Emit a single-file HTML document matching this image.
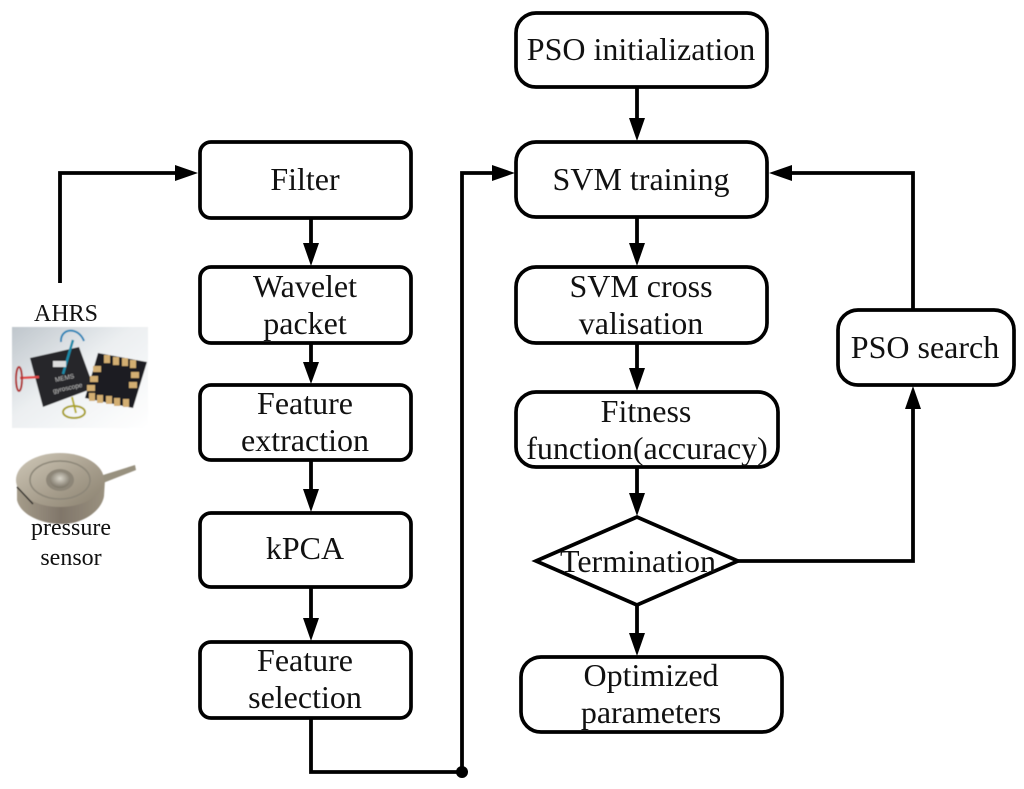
<!DOCTYPE html>
<html><head><meta charset="utf-8"><style>
html,body{margin:0;padding:0;background:#fff}
svg{display:block}
text{font-family:"Liberation Serif",serif;fill:#111;text-anchor:middle;font-size:32px}
.b{fill:#fff;stroke:#000;stroke-width:3.7}
.l{fill:none;stroke:#000;stroke-width:3.8}
</style></head><body>
<svg width="1024" height="789" viewBox="0 0 1024 789" xmlns="http://www.w3.org/2000/svg">
<defs>
<linearGradient id="bg" x1="0" y1="0" x2="1" y2="1"><stop offset="0" stop-color="#bfc6cc"/><stop offset=".45" stop-color="#eceff1"/><stop offset="1" stop-color="#fff"/></linearGradient>
<linearGradient id="met" x1="0" y1="0" x2="1" y2="1"><stop offset="0" stop-color="#cfc8b8"/><stop offset=".55" stop-color="#a89f8e"/><stop offset="1" stop-color="#8a816f"/></linearGradient>
<linearGradient id="side" x1="0" y1="0" x2="1" y2="0"><stop offset="0" stop-color="#a59c8a"/><stop offset=".5" stop-color="#80766a"/><stop offset="1" stop-color="#9a917f"/></linearGradient>
<radialGradient id="dome" cx=".5" cy=".4" r=".6"><stop offset="0" stop-color="#d9d5ca"/><stop offset="1" stop-color="#7a7365"/></radialGradient>
<filter id="bl" x="-5%" y="-5%" width="110%" height="110%"><feGaussianBlur stdDeviation="0.6"/></filter>
</defs>
<rect width="1024" height="789" fill="#fff"/>
<!-- AHRS image -->
<g filter="url(#bl)">
<rect x="12" y="327" width="136" height="101" fill="url(#bg)"/>
<polygon points="30,358 79,347 94,388 43,407" fill="#26262a"/>
<polygon points="98,353 147,362 133,408 85,398" fill="#1e1e20"/>
<g fill="#d2ae72">
<rect x="104" y="355" width="6" height="8"/><rect x="113" y="357" width="6" height="8"/><rect x="122" y="358" width="6" height="8"/><rect x="130" y="360" width="6" height="8"/>
<rect x="89" y="393" width="6" height="8"/><rect x="97" y="395" width="6" height="8"/><rect x="106" y="396" width="6" height="8"/><rect x="114" y="398" width="6" height="8"/><rect x="123" y="399" width="6" height="8"/>
<rect x="93" y="366" width="8" height="6"/><rect x="90" y="376" width="8" height="6"/><rect x="87" y="385" width="8" height="6"/>
<rect x="131" y="372" width="8" height="6"/><rect x="129" y="382" width="8" height="6"/>
</g>
<path d="M20,378 L39,377" stroke="#e04848" stroke-width="2.5" fill="none"/>
<ellipse cx="19" cy="379" rx="3" ry="12" fill="none" stroke="#b03030" stroke-width="2"/>
<path d="M63,374 L73,340" stroke="#1a8aa8" stroke-width="2.5"/>
<path d="M84,341 C78,326 60,328 61,342" fill="none" stroke="#2a86b8" stroke-width="2"/>
<path d="M72,397 L76,413" stroke="#b8b030" stroke-width="2"/>
<ellipse cx="74" cy="412" rx="11" ry="6" fill="none" stroke="#a8a020" stroke-width="2"/>
<rect x="53" y="361" width="13" height="6" fill="#ddd"/>
<text x="65" y="380" style="font-family:'Liberation Sans',sans-serif;font-size:6.5px;fill:#bbb" transform="rotate(-12 65 380)">MEMS</text>
<text x="68" y="390" style="font-family:'Liberation Sans',sans-serif;font-size:6.5px;fill:#bbb" transform="rotate(-12 68 390)">gyroscope</text>
</g>
<!-- pressure sensor -->
<g filter="url(#bl)">
<path d="M100,476 L135,465 L136,470 L103,483Z" fill="#98917f"/>
<path d="M17,484 L17,500 C20,514 40,524 62,524 C84,524 102,510 104,496 L105,480 Z" fill="url(#side)"/>
<ellipse cx="60" cy="480" rx="44" ry="27" fill="url(#met)"/>
<ellipse cx="60" cy="480" rx="30" ry="19" fill="none" stroke="#8c8678" stroke-width="1.5"/>
<ellipse cx="60" cy="480" rx="14" ry="11" fill="#8d8678"/>
<ellipse cx="60" cy="480" rx="10" ry="8" fill="url(#dome)"/>
<path d="M17,487 L33,504" stroke="#2c2a26" stroke-width="1.5"/>
</g>
<!-- connectors -->
<path class="l" d="M60,283 V173 H178"/>
<polygon points="198,173 175,165 175,181"/>
<path class="l" d="M311,218 V245"/><polygon points="311,266 303,243 319,243"/>
<path class="l" d="M311,343 V365"/><polygon points="311,384 303,362 319,362"/>
<path class="l" d="M311,460 V490"/><polygon points="311,512 303,489 319,489"/>
<path class="l" d="M311,587 V620"/><polygon points="311,641 303,618 319,618"/>
<path class="l" d="M311,718 V772 H462 V173 H495"/>
<polygon points="515,173 492,165 492,181"/>
<circle cx="462" cy="772" r="6"/>
<path class="l" d="M637,87 V120"/><polygon points="637,141 629,118 645,118"/>
<path class="l" d="M637,217 V245"/><polygon points="637,266 629,243 645,243"/>
<path class="l" d="M637,343 V370"/><polygon points="637,391 629,368 645,368"/>
<path class="l" d="M637,467 V495"/><polygon points="637,516 629,493 645,493"/>
<path class="l" d="M637,605 V635"/><polygon points="637,656 629,633 645,633"/>
<path class="l" d="M738,561 H913 V408"/><polygon points="913,386 905,409 921,409"/>
<path class="l" d="M913,309 V173 H790"/><polygon points="769,173 792,165 792,181"/>
<!-- boxes -->
<rect class="b" x="200" y="142" width="211" height="76" rx="11"/>
<rect class="b" x="200" y="267" width="211" height="76" rx="11"/>
<rect class="b" x="200" y="385" width="211" height="75" rx="11"/>
<rect class="b" x="200" y="513" width="211" height="74" rx="11"/>
<rect class="b" x="200" y="642" width="211" height="76" rx="11"/>
<rect class="b" x="516" y="13" width="251" height="74" rx="20"/>
<rect class="b" x="516" y="142" width="251" height="75" rx="20"/>
<rect class="b" x="516" y="267" width="251" height="76" rx="20"/>
<rect class="b" x="516" y="392" width="262" height="75" rx="20"/>
<rect class="b" x="521" y="657" width="261" height="75" rx="20"/>
<rect class="b" x="838" y="310" width="176" height="75" rx="20"/>
<polygon class="b" points="536,561 637,517 738,561 637,605"/>
<!-- labels -->
<text x="305" y="190">Filter</text>
<text x="305" y="297">Wavelet</text>
<text x="305" y="334">packet</text>
<text x="305" y="414">Feature</text>
<text x="305" y="451">extraction</text>
<text x="305" y="559">kPCA</text>
<text x="305" y="671">Feature</text>
<text x="305" y="708">selection</text>
<text x="641" y="60">PSO initialization</text>
<text x="641" y="190">SVM training</text>
<text x="641" y="297">SVM cross</text>
<text x="641" y="334">valisation</text>
<text x="646" y="422">Fitness</text>
<text x="647" y="459">function(accuracy)</text>
<text x="638" y="572">Termination</text>
<text x="651" y="686">Optimized</text>
<text x="651" y="723">parameters</text>
<text x="925" y="358">PSO search</text>
<text x="66" y="321" style="font-size:24px">AHRS</text>
<text x="71" y="535" style="font-size:24px">pressure</text>
<text x="71" y="565" style="font-size:24px">sensor</text>
</svg>
</body></html>
